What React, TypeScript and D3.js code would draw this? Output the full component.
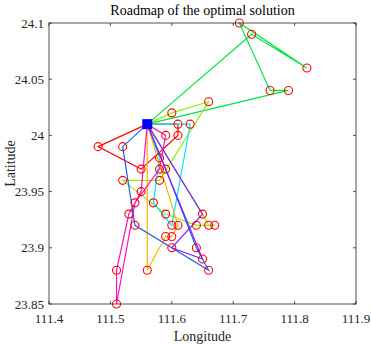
import * as d3 from 'd3';
import React from 'react';

// depot and customers (longitude, latitude)
const depot: [number, number] = [111.56, 24.01];
const lon = [
  111.71, 111.73, 111.82, 111.76, 111.79, 111.66, 111.6, 111.61, 111.63, 111.59,
  111.61, 111.52, 111.48, 111.58, 111.55, 111.58, 111.59, 111.52, 111.58, 111.55,
  111.54, 111.57, 111.53, 111.59, 111.65, 111.54, 111.6, 111.61, 111.64, 111.66,
  111.67, 111.59, 111.6, 111.6, 111.64, 111.65, 111.66, 111.56, 111.51, 111.51,
];
const lat = [
  24.1, 24.09, 24.06, 24.04, 24.04, 24.03, 24.02, 24.01, 24.01, 24.0,
  24.0, 23.99, 23.99, 23.98, 23.97, 23.97, 23.97, 23.96, 23.96, 23.95,
  23.94, 23.94, 23.93, 23.93, 23.93, 23.92, 23.92, 23.92, 23.92, 23.92,
  23.92, 23.91, 23.91, 23.9, 23.9, 23.89, 23.88, 23.88, 23.88, 23.85,
];

// routes: customer indices, each starts and ends at the depot
const routes = [
  { color: '#ff0000', stops: [12, 14, 10, 7] },
  { color: '#00e640', stops: [1, 2, 0, 3, 4] },
  { color: '#8fef10', stops: [6, 5, 18, 17, 23, 28, 30, 29, 24] },
  { color: '#00e8ff', stops: [8, 26, 21, 13] },
  { color: '#ffb000', stops: [37, 31, 32, 27] },
  { color: '#ff10c0', stops: [9, 15, 20, 39, 38, 22, 19] },
  { color: '#2060ff', stops: [11, 25, 36, 34, 16] },
  { color: '#8020ff', stops: [24, 33, 35] },
];

const xTicks = [111.4, 111.5, 111.6, 111.7, 111.8, 111.9];
const yTicks = [23.85, 23.9, 23.95, 24, 24.05, 24.1];

export default function App() {
  const left = 49, right = 356, top = 23, bottom = 304;
  const x = d3.scaleLinear().domain([111.4, 111.9]).range([left, right]);
  const y = d3.scaleLinear().domain([23.85, 24.1]).range([bottom, top]);
  const line = d3
    .line<[number, number]>()
    .x(d => x(d[0]))
    .y(d => y(d[1]));
  const axisColor = '#262626';
  const font = '"Liberation Serif", "Times New Roman", serif';

  return (
    <svg
      width={371}
      height={346}
      style={{ position: 'absolute', left: 0, top: 0, background: '#fff' }}
      fontFamily={font}
    >
      <rect x={0} y={0} width={371} height={346} fill="#fff" />
      {routes.map((r, i) => {
        const pts: [number, number][] = [
          depot,
          ...r.stops.map(s => [lon[s], lat[s]] as [number, number]),
          depot,
        ];
        return (
          <path key={i} d={line(pts) ?? ''} fill="none" stroke={r.color} strokeWidth={1.2} />
        );
      })}
      {lon.map((v, i) => (
        <circle key={i} cx={x(v)} cy={y(lat[i])} r={4} fill="none" stroke="#ff0000" strokeWidth={1.1} />
      ))}
      <rect x={x(depot[0]) - 5} y={y(depot[1]) - 5} width={10} height={10} fill="#0000ff" />

      {/* box and ticks */}
      <rect x={left} y={top} width={right - left} height={bottom - top} fill="none" stroke={axisColor} strokeWidth={0.8} />
      {xTicks.map(t => (
        <g key={t}>
          <line x1={x(t)} x2={x(t)} y1={bottom} y2={bottom - 3} stroke={axisColor} strokeWidth={0.8} />
          <line x1={x(t)} x2={x(t)} y1={top} y2={top + 3} stroke={axisColor} strokeWidth={0.8} />
          <text x={x(t)} y={323} fontSize={13} textAnchor="middle" fill={axisColor}>
            {d3.format('.1f')(t)}
          </text>
        </g>
      ))}
      {yTicks.map(t => (
        <g key={t}>
          <line x1={left} x2={left + 3} y1={y(t)} y2={y(t)} stroke={axisColor} strokeWidth={0.8} />
          <line x1={right} x2={right - 3} y1={y(t)} y2={y(t)} stroke={axisColor} strokeWidth={0.8} />
          <text x={44} y={y(t)} dy="0.35em" fontSize={13} textAnchor="end" fill={axisColor}>
            {String(t)}
          </text>
        </g>
      ))}
      <text x={(left + right) / 2} y={15} fontSize={14} textAnchor="middle" fill="#000">
        Roadmap of the optimal solution
      </text>
      <text x={(left + right) / 2} y={341} fontSize={14} textAnchor="middle" fill={axisColor}>
        Longitude
      </text>
      <text
        transform={`translate(15,${(top + bottom) / 2}) rotate(-90)`}
        fontSize={14}
        textAnchor="middle"
        fill={axisColor}
      >
        Latitude
      </text>
    </svg>
  );
}
